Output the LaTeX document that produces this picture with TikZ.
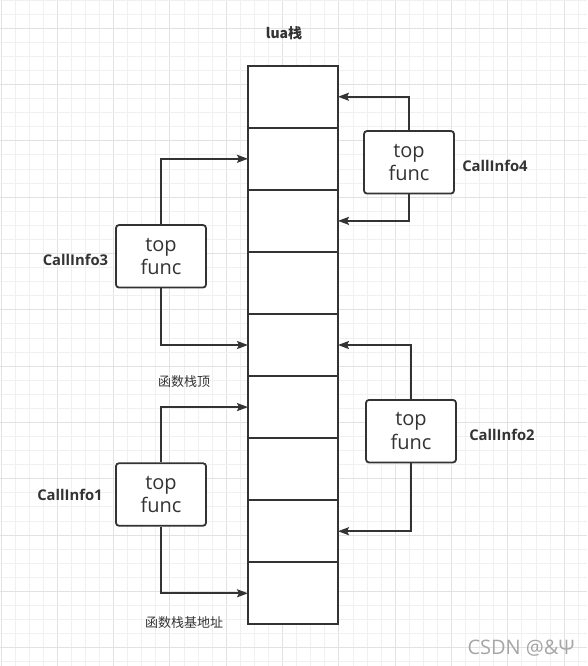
\documentclass[tikz,border=0pt]{standalone}
\usepackage{fontspec}
\setmainfont{Open Sans}
\newfontfamily\cjk{Noto Sans CJK SC}
\usetikzlibrary{arrows.meta}
\definecolor{gridmin}{RGB}{240,240,240}
\definecolor{gridmaj}{RGB}{226,226,226}
\definecolor{ink}{RGB}{51,51,51}
\tikzset{
  cell/.style={draw=ink, line width=1.8pt, fill=white, minimum width=90pt, minimum height=62.07pt, inner sep=0pt, outer sep=0pt},
  cibox/.style={draw=ink, line width=1.8pt, fill=white, rounded corners=3pt, minimum width=90pt, minimum height=62.5pt, inner sep=0pt, align=center, font=\fontsize{20}{23.5}\selectfont, text=ink},
  cilabel/.style={font=\fontsize{14.8}{16}\selectfont\bfseries, text=ink, inner sep=0pt},
  cnlabel/.style={font=\cjk\fontsize{13}{15}\selectfont, text=ink, inner sep=0pt},
  link/.style={draw=ink, line width=1.8pt, -{Stealth[length=11pt,width=8pt,inset=2pt]}},
}
\begin{document}
\begin{tikzpicture}[x=1pt,y=-1pt]
\useasboundingbox (0,0) rectangle (587,666);
\fill[white] (0,0) rectangle (587,666);
% grid
\foreach \i in {0,...,41}{
  \pgfmathtruncatemacro\m{mod(\i,4)}
  \ifnum\m=0 \def\gc{gridmaj}\else\def\gc{gridmin}\fi
  \draw[draw=\gc, line width=1pt] ({1+14.08*\i},0) -- ({1+14.08*\i},666);
}
\foreach \i in {0,...,47}{
  \pgfmathtruncatemacro\m{mod(\i,4)}
  \ifnum\m=2 \def\gc{gridmaj}\else\def\gc{gridmin}\fi
  \draw[draw=\gc, line width=1pt] (0,{0.1+14.08*\i}) -- (587,{0.1+14.08*\i});
}
% stack cells
\foreach \i in {1,...,9}{
  \node[cell] (c\i) at (293,{65.7+62.07*(\i-0.5)}) {};
}
% callinfo boxes
\node[cibox] (ci4) at (409,162.3) {top\\func};
\node[cibox] (ci3) at (161,256.3) {top\\func};
\node[cibox] (ci2) at (411,431.2) {top\\func};
\node[cibox] (ci1) at (161,494.5) {top\\func};
% links
\draw[link] (ci4.north) |- (c1.east);
\draw[link] (ci4.south) |- (c3.east);
\draw[link] (ci3.north) |- (c2.west);
\draw[link] (ci3.south) |- (c5.west);
\draw[link] (ci2.north) |- (c5.east);
\draw[link] (ci2.south) |- (c8.east);
\draw[link] (ci1.north) |- (c6.west);
\draw[link] (ci1.south) |- (c9.west);
% labels
\node[cilabel] (l4) at (495,166) {CallInfo4};
\node[cilabel] (l3) at (75.5,260) {CallInfo3};
\node[cilabel] (l2) at (502,435) {CallInfo2};
\node[cilabel] (l1) at (70,495) {CallInfo1};
\node[font=\cjk\bfseries\fontsize{14}{16}\selectfont, text=ink, inner sep=0pt] (title) at (284,33.5) {lua栈};
\node[cnlabel] (top) at (184,382) {函数栈顶};
\node[cnlabel] (base) at (184,623) {函数栈基地址};
\node[font=\fontsize{20}{22}\selectfont, text=gray!70, inner sep=0pt] (wm) at (521,648) {CSDN @\&Ψ};
\end{tikzpicture}
\end{document}
